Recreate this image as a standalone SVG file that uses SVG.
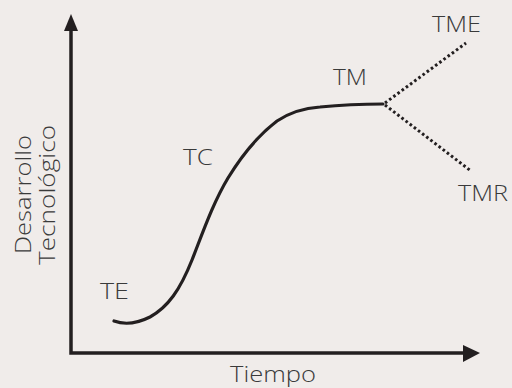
<svg xmlns="http://www.w3.org/2000/svg" width="512" height="388" viewBox="0 0 512 388">
<style>
.lbl{font-family:"Open Sans","Liberation Sans",sans-serif;font-weight:300;font-size:22px;fill:#3a3a3a}
.ax{stroke:#231f20;stroke-width:3.5;fill:none}
.curve{stroke:#231f20;stroke-width:3.2;fill:none;stroke-linecap:round}
.dot{stroke:#231f20;stroke-width:3;fill:none;stroke-dasharray:2.6 2.6}
</style>
<rect width="512" height="388" fill="#f0ecea"/>
<g id="axes">
<path class="ax" d="M71,28 V353 H465"/>
<polygon points="71,14 64,31 78,31" fill="#231f20"/>
<polygon points="480,353 463,345 463,362" fill="#231f20"/>
</g>
<g id="connectors">
<path class="curve" d="M114,321 C122,324 134,325 150,317 C168,307 180,290 192,260 C203,232 213,203 228,178 C242,155 256,137 277,121 C292,111 305,108 320,107 C340,105 365,104 383,104"/>
<path class="dot" d="M385,103 L466,43"/>
<path class="dot" d="M385,105 L471,171"/>
</g>
<g id="TE"><text class="lbl" x="100" y="299" textLength="29" lengthAdjust="spacingAndGlyphs">TE</text></g>
<g id="TC"><text class="lbl" x="183" y="165" textLength="30" lengthAdjust="spacingAndGlyphs">TC</text></g>
<g id="TM"><text class="lbl" x="333" y="85" textLength="34" lengthAdjust="spacingAndGlyphs">TM</text></g>
<g id="TME"><text class="lbl" x="432" y="32" textLength="49" lengthAdjust="spacingAndGlyphs">TME</text></g>
<g id="TMR"><text class="lbl" x="458" y="201" textLength="50" lengthAdjust="spacingAndGlyphs">TMR</text></g>
<g id="xlabel"><text class="lbl" x="230" y="382" textLength="86" lengthAdjust="spacingAndGlyphs">Tiempo</text></g>
<g id="ylabel">
<text class="lbl" transform="translate(31,254) rotate(-90)" textLength="119" lengthAdjust="spacingAndGlyphs">Desarrollo</text>
<text class="lbl" transform="translate(55,265) rotate(-90)" textLength="140" lengthAdjust="spacingAndGlyphs">Tecnológico</text>
</g>
</svg>
